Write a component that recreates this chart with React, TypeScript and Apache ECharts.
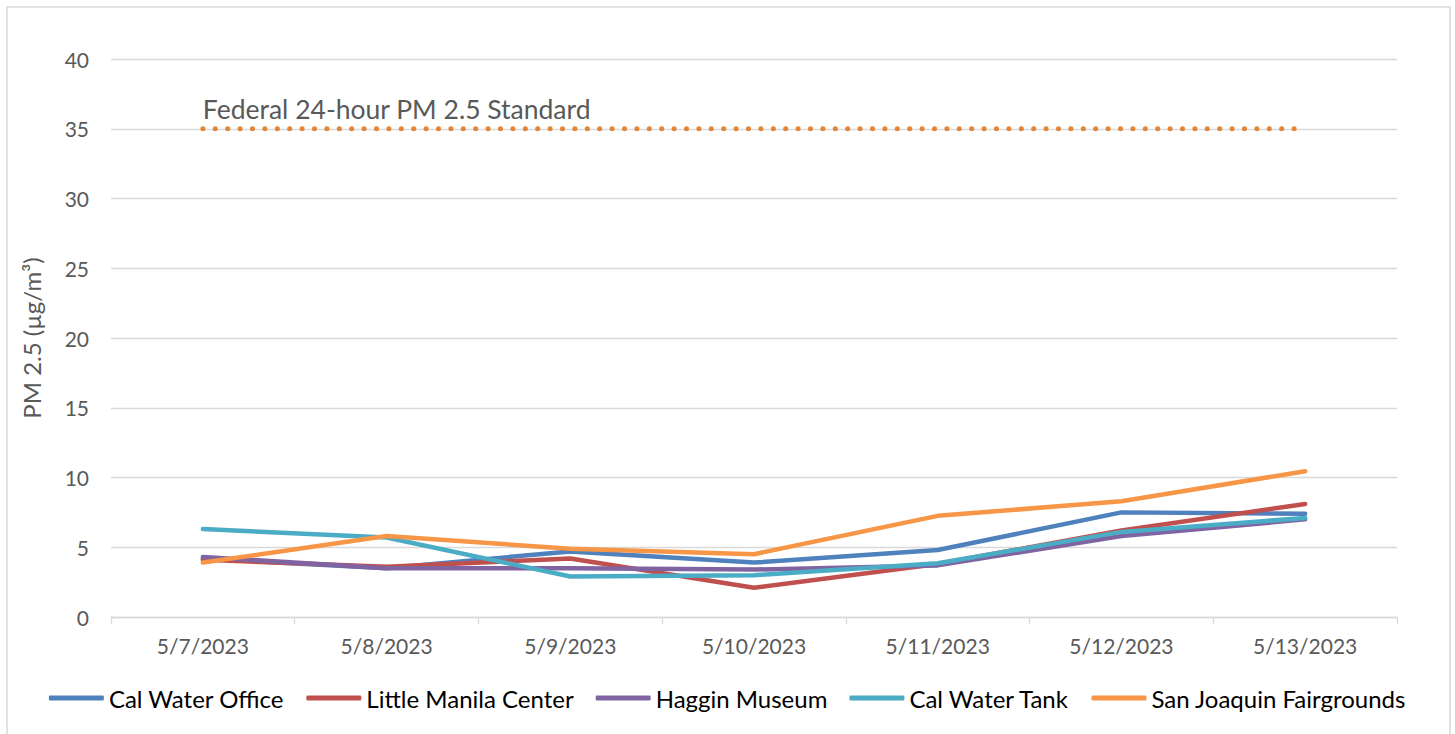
import React, { useEffect, useRef } from "react";
import * as echarts from "echarts";

const categories = ["5/7/2023", "5/8/2023", "5/9/2023", "5/10/2023", "5/11/2023", "5/12/2023", "5/13/2023"];
const calWaterOffice = [4.2, 3.5, 4.7, 3.9, 4.8, 7.5, 7.4];
const littleManilaCenter = [4.1, 3.6, 4.2, 2.1, 3.8, 6.2, 8.1];
const hagginMuseum = [4.3, 3.5, 3.5, 3.4, 3.7, 5.8, 7.0];
const calWaterTank = [6.3, 5.7, 2.9, 3.0, 3.85, 6.1, 7.1];
const sanJoaquinFairgrounds = [3.9, 5.8, 4.9, 4.5, 7.25, 8.3, 10.45];
const federalStandard = [35, 35, 35, 35, 35, 35, 35];
const standardLabel = "Federal 24-hour PM 2.5 Standard";
const yTicks = { min: 0, max: 40, interval: 5 };

const seriesDefs = [
  { name: "Cal Water Office", data: calWaterOffice, color: "#4F81BD" },
  { name: "Little Manila Center", data: littleManilaCenter, color: "#C0504D" },
  { name: "Haggin Museum", data: hagginMuseum, color: "#8064A2" },
  { name: "Cal Water Tank", data: calWaterTank, color: "#4BACC6" },
  { name: "San Joaquin Fairgrounds", data: sanJoaquinFairgrounds, color: "#F79646" },
];

const FONT = "Lato, 'Open Sans', sans-serif";

export default function App() {
  const ref = useRef<HTMLDivElement>(null);
  useEffect(() => {
    if (!ref.current) return;
    const chart = echarts.init(ref.current, null, { renderer: "svg" });
    const lineSeries: any[] = seriesDefs.map((s) => ({
      name: s.name,
      type: "line",
      data: s.data,
      symbol: "none",
      color: s.color,
      lineStyle: { width: 4.5, color: s.color, cap: "round", join: "round" },
      itemStyle: { color: s.color },
    }));
    const stdSeries: any = {
      name: "Federal Standard",
      type: "line",
      data: federalStandard.map((v, i) =>
        i === 0
          ? {
              value: v,
              label: {
                show: true,
                position: "top",
                align: "left",
                distance: 6,
                formatter: standardLabel,
                color: "#595959",
                fontSize: 26.5,
                fontFamily: FONT,
              },
            }
          : v
      ),
      symbol: "circle",
      symbolSize: 0.01,
      showSymbol: true,
      itemStyle: { color: "rgba(0,0,0,0)" },
      lineStyle: { width: 5, color: "#E2863A", type: [0.1, 12.3], cap: "round" },
      z: 1,
    };
    chart.setOption({
      animation: false,
      backgroundColor: "#ffffff",
      textStyle: { fontFamily: FONT },
      grid: { left: 111, right: 58, top: 59, bottom: 117, containLabel: false },
      legend: {
        data: seriesDefs.map((s) => s.name),
        left: "center",
        top: 681,
        icon: "roundRect",
        itemWidth: 55,
        itemHeight: 5,
        itemGap: 22,
        textStyle: { fontSize: 24, color: "#000", fontFamily: FONT },
      },
      xAxis: {
        type: "category",
        data: categories,
        boundaryGap: true,
        axisLine: { show: true, lineStyle: { color: "#d9d9d9", width: 1.3 } },
        axisTick: { show: true, length: 7, lineStyle: { color: "#d9d9d9", width: 1.3 } },
        axisLabel: { color: "#595959", fontSize: 21, margin: 18, fontFamily: FONT },
        splitLine: { show: false },
      },
      yAxis: {
        type: "value",
        min: yTicks.min,
        max: yTicks.max,
        interval: yTicks.interval,
        name: "PM 2.5 (µg/m³)",
        nameLocation: "middle",
        nameGap: 68,
        nameTextStyle: { color: "#595959", fontSize: 24, fontFamily: FONT },
        axisLine: { show: false },
        axisTick: { show: false },
        axisLabel: { color: "#595959", fontSize: 21, margin: 22, fontFamily: FONT },
        splitLine: { show: true, lineStyle: { color: "#d9d9d9", width: 1.3 } },
      },
      graphic: [
        {
          type: "rect",
          shape: { x: 7, y: 7, width: 1443, height: 740 },
          style: { fill: "none", stroke: "#d9d9d9", lineWidth: 1.5 },
          silent: true,
        },
      ],
      series: [stdSeries, ...lineSeries],
    });
    return () => chart.dispose();
  }, []);
  return (
    <div
      ref={ref}
      style={{ position: "fixed", left: 0, top: 0, width: 1455, height: 734 }}
    />
  );
}
